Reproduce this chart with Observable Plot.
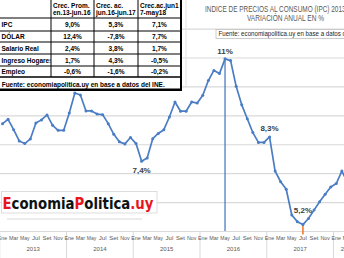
<!DOCTYPE html>
<html><head><meta charset="utf-8">
<script src="https://cdn.jsdelivr.net/npm/d3@7"></script>
<script src="https://cdn.jsdelivr.net/npm/@observablehq/plot@0.6"></script>
<style>
html,body{margin:0;padding:0;overflow:hidden;background:#fff;}
#wrap{position:relative;width:344px;height:258px;overflow:hidden;}
#wrap svg{position:absolute;left:0;top:0;}
</style></head><body><div id="wrap"></div>
<script>
// IPC annual variation (%), monthly from Ene 2013
const ipc = [8.73,8.88,8.52,8.13,8.04,8.20,8.75,8.86,9.03,8.67,8.50,8.50,
             9.10,9.79,9.72,9.17,9.17,9.06,9.04,8.73,8.36,8.10,8.03,8.25,
             8.04,7.43,7.54,8.21,8.39,8.52,8.96,9.48,9.16,9.16,9.48,9.44,
             9.71,10.22,10.57,10.46,10.97,10.91,10.02,9.38,8.90,8.42,8.08,8.08,
             8.27,7.09,6.72,6.46,5.57,5.34,5.24,5.45,5.74,6.03,6.29,6.54,
             6.66,7.09,6.70];
const monthNames = ["Ene","Mar","May","Jul","Set","Nov"];
const yearLabels = ["2013","2014","2015","2016","2017","2018"];
const monthsPerYear = [12,12,12,12,12,5];
const gridValues = [5,6,7,8,9,10,11,12];
const labelMonths = [40,25,48,54];
const labelTexts = ["11%","7,4%","8,3%","5,2%"];
const peakMonth = 40, troughMonth = 54;

const titleLines = ["INDICE DE PRECIOS AL CONSUMO (IPC) 2013-2018","VARIACIÓN ANUAL EN %"];
const sourceText = "Fuente: economiapolitica.uy en base a datos del INE.";
const tableHeaders = [["Crec. Prom.","en.13-jun.16"],["Crec. ac.","jun.16-jun.17"],["Crec.ac.jun1","7-may18"]];
const tableRows = ["IPC","DÓLAR","Salario Real","Ingreso Hogares","Empleo"];
const colProm = ["9,0%","12,4%","2,4%","1,7%","-0,6%"];
const colAc = ["5,3%","-7,8%","3,8%","4,3%","-1,6%"];
const colAc2 = ["7,1%","7,7%","1,7%","-0,5%","-0,2%"];
const logoParts = ["E","conomia","P","olitica",".uy"];

const blue = "#4a7dc4";
const data = ipc.map((v,i)=>({i, v}));
const monthTicks = [];
yearLabels.forEach((yr,y)=>{ for(let m=0;m<monthsPerYear[y];m+=2) monthTicks.push({i:12*y+m, t:monthNames[m/2]}); });
const yearTicks = yearLabels.map((yr,y)=>({i:12*y+(monthsPerYear[y]-1)/2, t:yr}));
const bounds = yearLabels.map((yr,y)=>12*y-0.5);
const labelDy = [-7, 9, -8.5, -14];

const labelMarks = labelMonths.map((m,k)=>Plot.text([data[m]], {x:"i", y:"v", text:()=>labelTexts[k], dy:labelDy[k],
  fontSize:8, fontWeight:"bold", fill:"#404040", fontFamily:"Liberation Sans, Arial, sans-serif"}));

const chart = Plot.plot({
  width:344, height:258, marginTop:0, marginRight:0, marginBottom:27, marginLeft:0,
  x:{type:"linear", domain:[-0.365, 61.477], axis:null},
  y:{domain:[5, 12.988], axis:null},
  style:{background:"#fff", fontFamily:"Liberation Sans, Arial, sans-serif"},
  marks:[
    Plot.ruleY(gridValues, {stroke:"#d9d9d9", strokeWidth:1.2}),
    Plot.ruleX(bounds, {y1:5, y2:4.066, stroke:"#d9d9d9", strokeWidth:1}),
    Plot.text(monthTicks, {x:"i", text:"t", frameAnchor:"bottom", dy:8.5, fontSize:6, fill:"#595959", fontFamily:"Liberation Sans Narrow, Arial Narrow, sans-serif"}),
    Plot.text(yearTicks, {x:"i", text:"t", frameAnchor:"bottom", dy:19.5, fontSize:6, fill:"#595959", fontFamily:"Liberation Sans Narrow, Arial Narrow, sans-serif"}),
    Plot.ruleX([data[peakMonth]], {x:"i", y1:5, y2:"v", stroke:blue, strokeWidth:1.3}),
    Plot.ruleX([data[troughMonth]], {x:"i", y1:"v", y2:4.88, stroke:"#ed7d31", strokeWidth:1.6}),
    Plot.line(data, {x:"i", y:"v", stroke:blue, strokeWidth:1.7}),
    Plot.dot(data, {x:"i", y:"v", r:1.5, fill:blue}),
    ...labelMarks
  ]
});
const wrap = document.getElementById("wrap");
wrap.appendChild(chart);

// boxes behind data labels; condense month tick labels
d3.select(chart).selectAll("text").each(function(){
  const t = this.textContent;
  if (labelTexts.includes(t)) {
    const b = this.getBBox();
    d3.select(this.parentNode).insert("rect", ()=>this)
      .attr("x", b.x-1.5).attr("y", b.y-0.5).attr("width", b.width+3).attr("height", b.height+1)
      .attr("fill","#fff").attr("stroke","#c8c8c8").attr("stroke-width",0.8);
  } else if (monthNames.includes(t)) {
    const w = this.getComputedTextLength();
    this.setAttribute("textLength", Math.min(w, 9.4));
    this.setAttribute("lengthAdjust", "spacingAndGlyphs");
  }
});

// overlay: title, source box, table, logo
const ov = d3.create("svg").attr("width",344).attr("height",258)
  .style("font-family","Liberation Sans, Arial, sans-serif").style("pointer-events","none");
ov.append("line").attr("x1",186).attr("x2",186).attr("y1",0).attr("y2",88).attr("stroke","#e3e3e3");
ov.append("text").attr("x",283.5).attr("y",12).attr("text-anchor","middle").attr("font-size",8.4)
  .attr("fill","#595959").attr("textLength",157).attr("lengthAdjust","spacingAndGlyphs").text(titleLines[0]);
ov.append("text").attr("x",285.5).attr("y",21).attr("text-anchor","middle").attr("font-size",8.4)
  .attr("fill","#595959").attr("textLength",77).attr("lengthAdjust","spacingAndGlyphs").text(titleLines[1]);
ov.append("rect").attr("x",216).attr("y",29.5).attr("width",140).attr("height",9)
  .attr("fill","#fff").attr("stroke","#bfbfbf").attr("stroke-width",0.8);
ov.append("text").attr("x",218.5).attr("y",36.3).attr("font-size",6.6).attr("fill","#262626")
  .attr("textLength",146).attr("lengthAdjust","spacingAndGlyphs").text(sourceText);

// table
const T = ov.append("g");
T.append("rect").attr("x",-2).attr("y",-2).attr("width",183).attr("height",92).attr("fill","#fff");
const hl = (x1,x2,y,w)=>T.append("line").attr("x1",x1).attr("x2",x2).attr("y1",y).attr("y2",y).attr("stroke","#000").attr("stroke-width",w);
const vl = (x,y1,y2,w)=>T.append("line").attr("x1",x).attr("x2",x).attr("y1",y1).attr("y2",y2).attr("stroke","#000").attr("stroke-width",w);
const colX = [0,51,94,138,181];
const rowLines = [18,31,42,54,66,77];
rowLines.slice(0,5).forEach(y=>hl(-2,181,y,1));
hl(-2,181,77,1.6); hl(-2,182,89.8,2.4);
[51,94,138].forEach(x=>vl(x,-2,77,1));
vl(181,-2,91,2);
T.append("clipPath").attr("id","c1").append("rect").attr("x",-2).attr("y",0).attr("width",52.5).attr("height",80);
const tx = (x,y,t,anchor)=>T.append("text").attr("x",x).attr("y",y).attr("font-size",6.5).attr("font-weight","bold")
  .attr("fill","#000").attr("text-anchor",anchor||"start").text(t);
tableHeaders.forEach((h,c)=>{ tx(colX[c+1]+2,7.5,h[0]); tx(colX[c+1]+2,15,h[1]); });
const cols = [colProm,colAc,colAc2];
tableRows.forEach((r,k)=>{
  const yb = (rowLines[k]+rowLines[k+1])/2 + 2.5;
  tx(1.5,yb,r).attr("clip-path","url(#c1)");
  cols.forEach((col,c)=>tx((colX[c+1]+colX[c+2])/2, yb, col[k], "middle"));
});
tx(1.7,87,sourceText).attr("textLength",163).attr("lengthAdjust","spacingAndGlyphs");

// logo: one text element, coloured by a hard-stop gradient
ov.append("rect").attr("x",1.5).attr("y",191.5).attr("width",155.5).attr("height",21.5)
  .attr("fill","#fff").attr("stroke","#d4d4d4").attr("stroke-width",0.8);
const grad = ov.append("defs").append("linearGradient").attr("id","logoGrad")
  .attr("gradientUnits","userSpaceOnUse").attr("x1",0).attr("x2",344).attr("y1",0).attr("y2",0);
const logoText = ov.append("text").attr("x",2.5).attr("y",208.5).attr("font-family","DejaVu Sans, Verdana, sans-serif")
  .attr("font-weight","bold").attr("font-size",15).attr("textLength",151).attr("lengthAdjust","spacingAndGlyphs")
  .attr("fill","url(#logoGrad)").text(logoParts.join(""));
ov.append("line").attr("x1",7).attr("x2",142).attr("y1",219).attr("y2",219).attr("stroke","#d9d9d9").attr("stroke-width",1);

wrap.appendChild(ov.node());

const node = logoText.node();
let idx = 0;
logoParts.forEach((p,k)=>{
  const col = k%2===0 ? "#e8141b" : "#111";
  const x0 = idx === 0 ? 0 : node.getStartPositionOfChar(idx).x;
  idx += p.length;
  const x1 = idx >= node.getNumberOfChars() ? 344 : node.getStartPositionOfChar(idx).x;
  grad.append("stop").attr("offset", x0/344).attr("stop-color", col);
  grad.append("stop").attr("offset", x1/344).attr("stop-color", col);
});
</script></body></html>
